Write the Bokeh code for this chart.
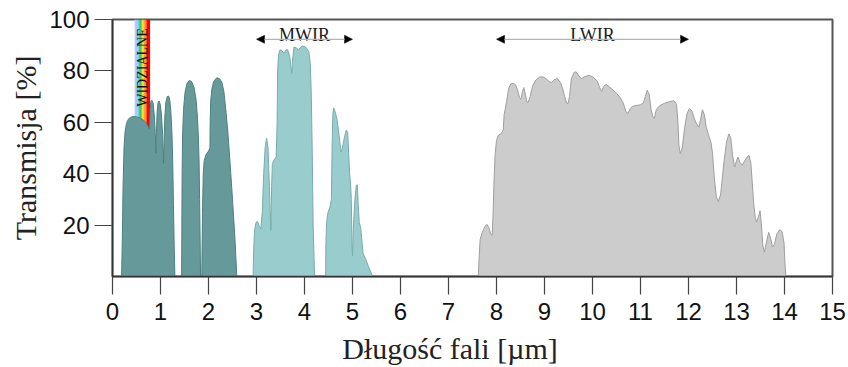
import math
from bokeh.plotting import figure
from bokeh.models import Range1d, FixedTicker, Arrow, NormalHead
from bokeh.core.properties import value
from bokeh.embed import file_html
from bokeh.resources import INLINE

# ---------------- data ----------------
# NIR / SWIR windows (dark teal)
nir1_x = [0.19, 0.205, 0.22, 0.24, 0.26, 0.29, 0.33, 0.38, 0.45, 0.52, 0.59, 0.65, 0.70, 0.74,
          0.765, 0.775, 0.785, 0.80, 0.82, 0.845, 0.87, 0.89, 0.905, 0.915, 0.93, 0.95, 0.97,
          0.995, 1.02, 1.045, 1.065, 1.075, 1.09, 1.11, 1.14, 1.17, 1.195, 1.22, 1.24, 1.255,
          1.27, 1.285, 1.30]
nir1_y = [0, 15, 35, 50, 56, 59.5, 61.2, 62, 62.3, 62, 61.5, 60.8, 59.8, 58.5,
          57.5, 60, 65, 68, 68.6, 67.5, 63, 56, 48, 56, 64, 67.8, 68.3,
          67, 63, 55, 44, 52, 62, 67.5, 70, 70.2, 68.5, 63, 55, 44,
          28, 12, 0]
nir2_x = [1.44, 1.445, 1.45, 1.46, 1.48, 1.51, 1.55, 1.60, 1.65, 1.70, 1.74, 1.77, 1.79, 1.805,
          1.815, 1.825, 1.835]
nir2_y = [0, 20, 40, 55, 65, 71.5, 75, 76.3, 75.8, 73.5, 69, 62, 54, 44, 30, 15, 0]
nir3_x = [1.86, 1.875, 1.89, 1.91, 1.95, 2.0, 2.03, 2.035, 2.045, 2.07, 2.11, 2.17, 2.23, 2.28,
          2.32, 2.36, 2.40, 2.45, 2.50, 2.55, 2.59]
nir3_y = [0, 25, 40, 45, 47.5, 48.8, 50, 60, 68, 73, 76, 77.3, 77, 75.5,
          72, 65, 57, 44, 30, 15, 0]

# MWIR windows (light teal)
mw1_x = [2.93, 2.94, 2.96, 2.99, 3.02, 3.06, 3.09, 3.12, 3.15, 3.18, 3.21, 3.24, 3.27, 3.29,
         3.30, 3.315, 3.33, 3.37, 3.41, 3.43, 3.44, 3.46, 3.49, 3.53, 3.575, 3.61, 3.645, 3.69,
         3.72, 3.735, 3.75, 3.78, 3.83, 3.87, 3.91, 3.96, 4.03, 4.09, 4.12, 4.14, 4.16, 4.18, 4.21]
mw1_y = [0, 10, 18, 21, 21.5, 19.5, 18.5, 25, 40, 50, 53.8, 50, 35, 22,
         18, 35, 44, 45.5, 46.5, 60, 80, 86.5, 88.2, 87.8, 86.8, 88, 88.3, 86,
         81, 79, 84, 89.3, 89, 88, 89, 89.7, 89.2, 87.5, 83, 72, 50, 20, 0]
mw2_x = [4.44, 4.445, 4.46, 4.49, 4.53, 4.56, 4.575, 4.59, 4.61, 4.64, 4.68, 4.72, 4.76, 4.79,
         4.83, 4.87, 4.90, 4.92, 4.94, 4.96, 4.975, 4.99, 5.0, 5.02, 5.05, 5.08, 5.10, 5.12,
         5.14, 5.17, 5.19, 5.22, 5.27, 5.33, 5.42]
mw2_y = [0, 12, 21, 25, 27, 30, 50, 63, 65.6, 64, 61, 55, 48.5, 50,
         54, 57, 56, 48, 40, 36, 30, 12, 8, 20, 30, 35.5, 35.7, 28,
         21, 19, 15, 9, 7, 4, 0]

# LWIR window (grey)
lw_x = [7.62, 7.64, 7.66, 7.70, 7.76, 7.80, 7.84, 7.88, 7.91, 7.93, 7.95, 7.97, 8.0, 8.04, 8.10,
        8.14, 8.16, 8.18, 8.21, 8.25, 8.30, 8.35, 8.40, 8.44, 8.48, 8.51, 8.54, 8.57, 8.60, 8.63,
        8.66, 8.70, 8.75, 8.82, 8.90, 8.97, 9.03, 9.10, 9.15, 9.20, 9.27, 9.33, 9.38, 9.42, 9.46,
        9.49, 9.52, 9.56, 9.62, 9.66, 9.72, 9.77, 9.84, 9.93, 10.02, 10.10, 10.15, 10.19, 10.23,
        10.28, 10.35, 10.43, 10.50, 10.58, 10.64, 10.70, 10.74, 10.79, 10.85, 10.93, 11.0, 11.06,
        11.10, 11.14, 11.18, 11.22, 11.26, 11.29, 11.33, 11.40, 11.50, 11.60, 11.70, 11.75, 11.78,
        11.80, 11.83, 11.87, 11.92, 11.97, 12.02, 12.07, 12.13, 12.19, 12.22, 12.25, 12.29, 12.33,
        12.37, 12.42, 12.47, 12.50, 12.54, 12.58, 12.62, 12.67, 12.73, 12.79, 12.84, 12.88, 12.92,
        12.96, 13.0, 13.03, 13.07, 13.12, 13.17, 13.22, 13.26, 13.30, 13.33, 13.36, 13.39, 13.42,
        13.46, 13.49, 13.52, 13.55, 13.58, 13.62, 13.67, 13.71, 13.75, 13.79, 13.84, 13.90, 13.95,
        13.99, 14.01, 14.03]
lw_y = [0, 8, 14.5, 17, 19.5, 20.3, 19, 16.5, 16, 25, 38, 47, 53, 55, 55.6,
        57, 63, 65, 68, 73, 75, 75.2, 74.5, 72.5, 69.5, 69, 72, 73.5, 71, 68,
        67.8, 70, 74, 76.5, 77.6, 77.7, 77, 75.8, 75.5, 76.6, 77, 75.5, 73, 70, 67.5,
        67.3, 70, 77, 79.5, 79.6, 78, 77, 77.8, 78.3, 77.5, 76, 73.5, 72, 73.8,
        74.8, 73.8, 72.5, 71.3, 69.5, 67.5, 64, 63.5, 65.5, 66.3, 66.6, 66.8, 67.5,
        70, 72.5, 71, 65, 62, 61.6, 65, 66.5, 67.4, 68, 68.4, 67, 60,
        51, 47.8, 50, 58, 63.5, 65.3, 64.5, 61, 58.5, 58.2, 61, 64.9, 63,
        58, 55, 52, 48, 38, 31, 29.1, 32, 43, 52, 55.5, 54, 47,
        42.6, 45, 46.5, 44.5, 43.3, 45, 46.5, 47.1, 44, 36, 28, 23, 21.2,
        23.5, 25.6, 20, 12, 9.5, 13, 17.2, 15, 11.5, 12.5, 16.5, 18.2, 17.5,
        13, 5, 0]

# visible band (edges in um) and its colours
vis_edges = [0.46, 0.49, 0.52, 0.55, 0.575, 0.595, 0.617, 0.64, 0.66, 0.69, 0.715, 0.783]
vis_colors = ["#c4c8f8", "#a8c8f8", "#70c8f4", "#38c0e8", "#30c050", "#80d030",
              "#e8e020", "#ffc010", "#ff9010", "#ff4a10", "#ff0000"]

# spectral range annotations
range_names = ["MWIR", "LWIR"]
range_start = [3, 8]
range_end = [5, 12]

x_ticks = list(range(0, 16))
y_ticks = [20, 40, 60, 80, 100]

# ---------------- figure ----------------
p = figure(width=848, height=367, output_backend="svg", toolbar_location=None,
           x_range=Range1d(0, 15), y_range=Range1d(0, 100),
           min_border_left=112, min_border_right=16, min_border_top=19, min_border_bottom=90)
p.title.visible = False
p.background_fill_color = "white"
p.border_fill_color = "white"
p.xgrid.visible = False
p.ygrid.visible = False
p.outline_line_color = "#555555"
p.outline_line_width = 2

# visible spectrum band (under the dark teal)
p.quad(left=vis_edges[:-1], right=vis_edges[1:], bottom=57, top=100,
       fill_color=vis_colors, line_color=None)

dark_fill, dark_line = "#669999", "#4f7f7f"
light_fill, light_line = "#99cccc", "#7aabab"
grey_fill, grey_line = "#cccccc", "#9e9e9e"

for xs, ys in [(nir1_x, nir1_y), (nir2_x, nir2_y), (nir3_x, nir3_y)]:
    p.patch(xs, ys, fill_color=dark_fill, line_color=dark_line, line_width=1)
for xs, ys in [(mw1_x, mw1_y), (mw2_x, mw2_y)]:
    p.patch(xs, ys, fill_color=light_fill, line_color=light_line, line_width=1)
p.patch(lw_x, lw_y, fill_color=grey_fill, line_color=grey_line, line_width=1)

# range arrows + labels
for s, e in zip(range_start, range_end):
    p.add_layout(Arrow(
        start=NormalHead(size=8, fill_color="black", line_color="black", line_width=0.5),
        end=NormalHead(size=8, fill_color="black", line_color="black", line_width=0.5),
        x_start=s, y_start=92.3, x_end=e, y_end=92.3,
        line_color="#b4b4b4", line_width=1.2))
mid = [(s + e) / 2 for s, e in zip(range_start, range_end)]
p.text(x=mid, y=[93.8] * len(mid), text=range_names,
       text_font=value("Liberation Serif"), text_font_size="18px",
       text_align="center", text_baseline="alphabetic", text_color="#1a1a1a")

p.text(x=[0.625], y=[81.3], text=["WIDZIALNE"], angle=math.pi / 2,
       text_font=value("Liberation Serif"), text_font_size="14px",
       text_align="center", text_baseline="middle", text_color="#111111")

# axes
p.xaxis.ticker = FixedTicker(ticks=x_ticks)
p.yaxis.ticker = FixedTicker(ticks=y_ticks)
for ax in (p.xaxis[0], p.yaxis[0]):
    ax.major_tick_out = 18
    ax.major_tick_in = 0
    ax.minor_tick_out = 0
    ax.minor_tick_in = 0
    ax.axis_line_color = "#333333"
    ax.axis_line_width = 1.5
    ax.major_tick_line_color = "#444444"
    ax.major_tick_line_width = 1.2
    ax.major_label_text_font = "Liberation Sans"
    ax.major_label_text_font_size = "24px"
    ax.major_label_text_color = "#111111"
p.xaxis.major_label_standoff = 8
p.yaxis.major_label_standoff = 5

p.yaxis.axis_label = "Transmisja [%]"
p.yaxis.axis_label_text_font = "Liberation Serif"
p.yaxis.axis_label_text_font_size = "30px"
p.yaxis.axis_label_text_font_style = "normal"
p.yaxis.axis_label_text_color = "#222222"
p.yaxis.axis_label_standoff = 4

# x title: trailing no-break spaces shift the centred text to the left like the reference
p.xaxis.axis_label = "Długość fali [µm]" + "\u00a0" * 6
p.xaxis.axis_label_text_font = "Liberation Serif"
p.xaxis.axis_label_text_font_size = "30px"
p.xaxis.axis_label_text_font_style = "normal"
p.xaxis.axis_label_text_color = "#222222"
p.xaxis.axis_label_standoff = 9

open("out.html", "w").write(file_html(p, INLINE))
